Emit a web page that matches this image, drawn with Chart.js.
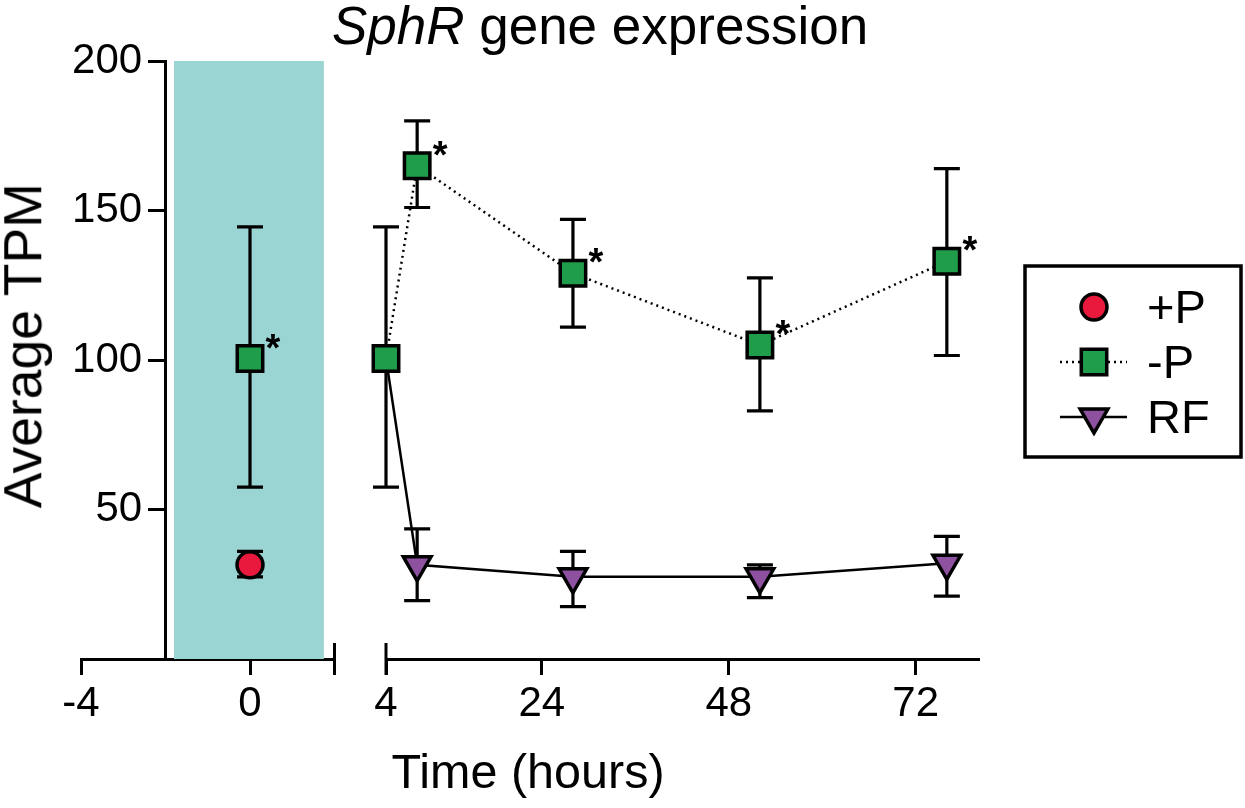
<!DOCTYPE html>
<html lang="en">
<head>
  <meta charset="UTF-8" />
  <title>SphR gene expression</title>
  <script src="https://cdn.jsdelivr.net/npm/chart.js"></script>
  <style>
    body { margin: 0; background: #fff; font-family: "Liberation Sans", Arial, sans-serif; }
    #wrap { position: relative; width: 1245px; height: 808px; overflow: hidden; }
    canvas { position: absolute; top: 0; }
    #leftChart { left: 0; }
    #rightChart { left: 345px; }
    .lbl { position: absolute; color: #000; line-height: 1; white-space: nowrap; text-align: center; }
    #title { left: 0; width: 1200px; top: -1px; font-size: 53px; }
    #xTitle { left: 328px; width: 400px; top: 747px; font-size: 48.5px; }
    #yTitle { left: -177px; width: 400px; top: 319px; font-size: 53.5px; transform: rotate(-90deg); }
  </style>
</head>
<body>
<div id="wrap">
  <canvas id="leftChart" width="356" height="808"></canvas>
  <canvas id="rightChart" width="900" height="808"></canvas>
  <div class="lbl" id="title"><i>SphR</i> gene expression</div>
  <div class="lbl" id="xTitle">Time (hours)</div>
  <div class="lbl" id="yTitle">Average TPM</div>
</div>

<script>
  // baseline (0 h) segment
  const leftTicks = [-4, 0];
  const baseTime = [0];
  const plusPMean = [31.5];
  const plusPLow = [27.5];
  const plusPHigh = [36];
  const minusPBaseMean = [100.5];
  const minusPBaseLow = [57.5];
  const minusPBaseHigh = [144.5];
  const minusPBaseStar = [true];
  const shadeRange = [-1.8, 1.75];

  // time course segment
  const rightTicks = [4, 24, 48, 72];
  const times = [4, 8, 28, 52, 76];
  const minusPMean = [100.5, 165, 129, 105, 133];
  const minusPLow = [57.5, 151, 111, 83, 101.5];
  const minusPHigh = [144.5, 180, 147, 127.5, 164];
  const minusPStar = [false, true, true, true, true];
  const rfMean = [100.5, 31.5, 27.5, 27.5, 32];
  const rfLow = [null, 19.5, 17.5, 20.5, 21];
  const rfHigh = [null, 43.5, 36, 31.5, 41];

  const yTicks = [50, 100, 150, 200];

  const FONT = '"Liberation Sans", Arial, sans-serif';

  const plusPStyle = {
    pointStyle: 'circle', pointRadius: 13,
    pointBackgroundColor: '#e8193c', pointBorderColor: '#000', pointBorderWidth: 3.5
  };
  const minusPStyle = {
    pointStyle: 'rect', pointRadius: 18,
    pointBackgroundColor: '#1f9d4a', pointBorderColor: '#000', pointBorderWidth: 3.5,
    borderColor: '#000', borderWidth: 2.5, borderDash: [2, 4]
  };
  const rfStyle = {
    pointStyle: 'triangle', pointRotation: 180,
    pointRadius: ctx => ctx.dataIndex === 0 ? 0 : 16,
    pointBackgroundColor: '#8e519f', pointBorderColor: '#000', pointBorderWidth: 3.5,
    borderColor: '#000', borderWidth: 2.5
  };

  const pts = (xs, ys) => xs.map((x, i) => ({ x: x, y: ys[i] }));

  // vertical error bars, drawn just before each dataset so the markers cover them
  const errorBars = {
    id: 'errorBars',
    beforeDatasetDraw(chart, args) {
      const ds = chart.data.datasets[args.index];
      if (!ds.errLow) return;
      const y = chart.scales.y;
      const ctx = chart.ctx;
      ctx.save();
      ctx.strokeStyle = '#000';
      ctx.lineWidth = 3.2;
      args.meta.data.forEach((pt, i) => {
        const lo = ds.errLow[i], hi = ds.errHigh[i];
        if (lo == null) return;
        const yl = y.getPixelForValue(lo), yh = y.getPixelForValue(hi);
        ctx.beginPath();
        ctx.moveTo(pt.x, yl); ctx.lineTo(pt.x, yh);
        ctx.moveTo(pt.x - 13, yl); ctx.lineTo(pt.x + 13, yl);
        ctx.moveTo(pt.x - 13, yh); ctx.lineTo(pt.x + 13, yh);
        ctx.stroke();
      });
      ctx.restore();
    }
  };

  const stars = {
    id: 'stars',
    afterDatasetsDraw(chart) {
      const ctx = chart.ctx;
      chart.data.datasets.forEach((ds, di) => {
        if (!ds.stars) return;
        chart.getDatasetMeta(di).data.forEach((pt, i) => {
          if (!ds.stars[i]) return;
          ctx.save();
          ctx.font = 'bold 38px ' + FONT;
          ctx.fillStyle = '#000';
          ctx.textAlign = 'center';
          ctx.textBaseline = 'alphabetic';
          ctx.fillText('*', pt.x + 23, pt.y + 2);
          ctx.restore();
        });
      });
    }
  };

  // the short bar that marks where the x axis is broken
  const axisBreak = {
    id: 'axisBreak',
    afterDraw(chart, args, opts) {
      const s = chart.scales.x, ctx = chart.ctx;
      const px = s.getPixelForValue(opts.value);
      ctx.save();
      ctx.strokeStyle = '#000';
      ctx.lineWidth = 3;
      ctx.beginPath();
      ctx.moveTo(px, s.top - 16);
      ctx.lineTo(px, s.top + 16);
      ctx.stroke();
      ctx.restore();
    }
  };

  function drawMarker(ctx, st, x, y) {
    ctx.save();
    ctx.fillStyle = st.pointBackgroundColor;
    ctx.strokeStyle = st.pointBorderColor;
    ctx.lineWidth = st.pointBorderWidth;
    ctx.beginPath();
    if (st.pointStyle === 'circle') {
      ctx.arc(x, y, st.pointRadius, 0, Math.PI * 2);
    } else if (st.pointStyle === 'rect') {
      const h = st.pointRadius * Math.SQRT1_2;
      ctx.rect(x - h, y - h, 2 * h, 2 * h);
    } else {
      const r = 16;
      ctx.moveTo(x, y + r);
      ctx.lineTo(x - r * Math.sin(Math.PI / 3), y - r / 2);
      ctx.lineTo(x + r * Math.sin(Math.PI / 3), y - r / 2);
      ctx.closePath();
    }
    ctx.fill();
    ctx.stroke();
    ctx.restore();
  }

  const legendBox = {
    id: 'legendBox',
    afterDraw(chart) {
      const ctx = chart.ctx;
      const entries = [
        { text: '+P', st: plusPStyle, line: null },
        { text: '-P', st: minusPStyle, line: [2, 4] },
        { text: 'RF', st: rfStyle, line: [] }
      ];
      ctx.save();
      ctx.strokeStyle = '#000';
      ctx.lineWidth = 3.5;
      ctx.strokeRect(680, 266, 216, 191);
      entries.forEach((e, i) => {
        const cy = 307 + i * 55;
        if (e.line) {
          ctx.save();
          ctx.setLineDash(e.line);
          ctx.lineWidth = 2.5;
          ctx.beginPath();
          ctx.moveTo(715, cy); ctx.lineTo(782, cy);
          ctx.stroke();
          ctx.restore();
        }
        drawMarker(ctx, e.st, 749, cy);
        ctx.fillStyle = '#000';
        ctx.font = '47px ' + FONT;
        ctx.textAlign = 'left';
        ctx.textBaseline = 'alphabetic';
        ctx.fillText(e.text, 802, cy + 16);
      });
      ctx.restore();
    }
  };

  function xAxis(min, max, ticks) {
    return {
      type: 'linear', min: min, max: max, z: 1,
      afterBuildTicks: s => { s.ticks = ticks.map(v => ({ value: v })); },
      afterFit: s => { s.height = 149; },
      ticks: { color: '#000', padding: 4, font: { family: FONT, size: 42 } },
      grid: { drawOnChartArea: false, tickLength: 16, lineWidth: 3, color: '#000' },
      border: { color: '#000', width: 3 }
    };
  }

  const yScale = {
    min: 0, max: 200,
    afterBuildTicks: s => { s.ticks = yTicks.map(v => ({ value: v })); },
    ticks: { color: '#000', font: { family: FONT, size: 42 }, callback: v => v + '  ' },
    grid: { drawOnChartArea: false, tickLength: 16, lineWidth: 3, color: '#000' },
    border: { color: '#000', width: 3 }
  };

  new Chart(document.getElementById('leftChart'), {
    type: 'line',
    data: {
      datasets: [
        Object.assign({ label: '+P', data: pts(baseTime, plusPMean), errLow: plusPLow, errHigh: plusPHigh, showLine: false, clip: false, order: 1 }, plusPStyle),
        Object.assign({ label: '-P', data: pts(baseTime, minusPBaseMean), errLow: minusPBaseLow, errHigh: minusPBaseHigh, stars: minusPBaseStar, clip: false, order: 2 }, minusPStyle),
        { label: 'shade', data: pts(shadeRange, [200, 200]), fill: 'origin', backgroundColor: '#9bd5d3', borderWidth: 0, pointRadius: 0, order: 10 }
      ]
    },
    options: {
      responsive: false, animation: false, events: [],
      layout: { padding: { left: 81, right: 0, top: 61, bottom: 0 } },
      scales: {
        x: xAxis(-4, 2, leftTicks),
        y: Object.assign({ position: { x: -2 } }, yScale)
      },
      plugins: { legend: { display: false }, tooltip: { enabled: false }, axisBreak: { value: 2 } }
    },
    plugins: [errorBars, stars, axisBreak]
  });

  new Chart(document.getElementById('rightChart'), {
    type: 'line',
    data: {
      datasets: [
        Object.assign({ label: '-P', data: pts(times, minusPMean), errLow: minusPLow, errHigh: minusPHigh, stars: minusPStar, clip: false, order: 1 }, minusPStyle),
        Object.assign({ label: 'RF', data: pts(times, rfMean), errLow: rfLow, errHigh: rfHigh, clip: false, order: 2 }, rfStyle)
      ]
    },
    options: {
      responsive: false, animation: false, events: [],
      layout: { padding: { left: 41, right: 267, top: 61, bottom: 0 } },
      scales: {
        x: xAxis(4, 80, rightTicks),
        y: Object.assign({ display: false }, yScale)
      },
      plugins: { legend: { display: false }, tooltip: { enabled: false }, axisBreak: { value: 4 } }
    },
    plugins: [errorBars, stars, axisBreak, legendBox]
  });
</script>
</body>
</html>
